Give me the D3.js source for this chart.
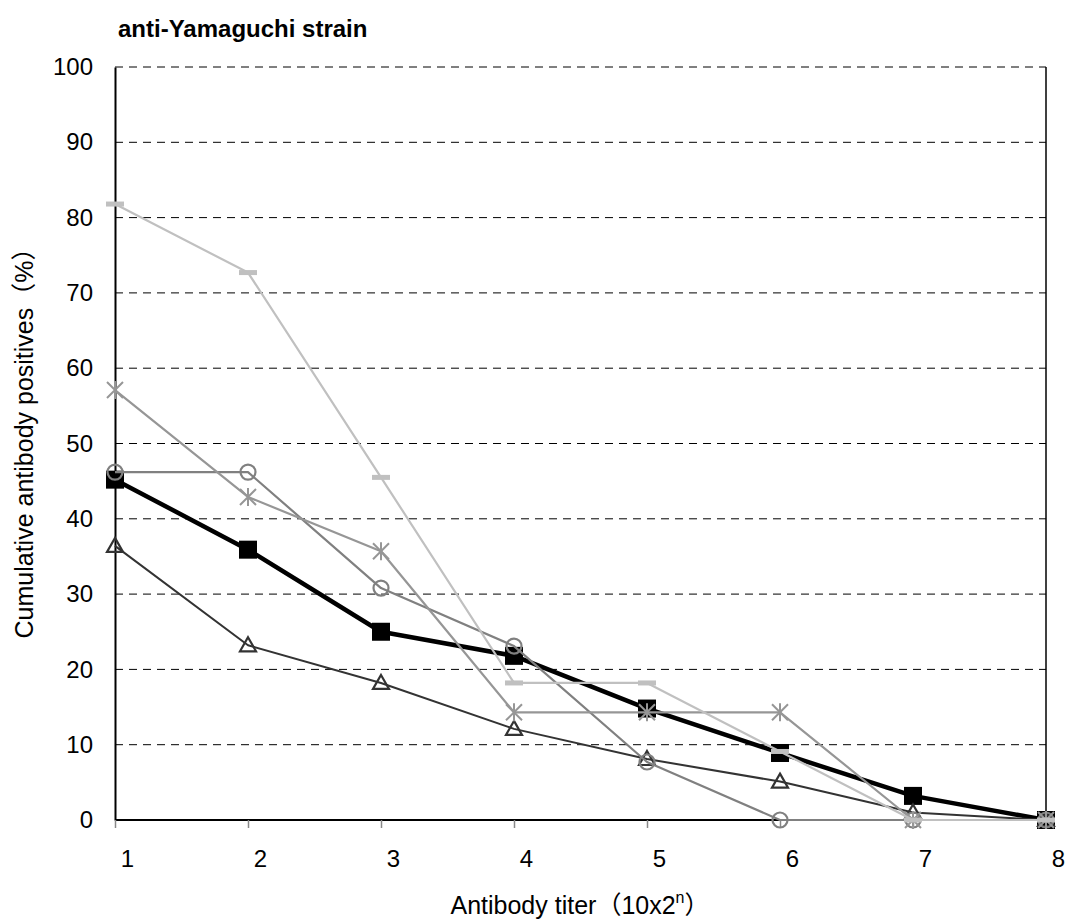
<!DOCTYPE html>
<html><head><meta charset="utf-8">
<script src="https://cdn.jsdelivr.net/npm/d3@7/dist/d3.min.js"></script>
<style>
body{margin:0;background:#fff;}
text{font-family:"Liberation Sans",Arial,"Noto Sans CJK JP",sans-serif;}
</style></head><body>
<svg id="c" width="1070" height="921"></svg>
<script>
const titers = [1,2,3,4,5,6,7,8];
const yTicks = [0,10,20,30,40,50,60,70,80,90,100];
const seriesSquare   = [45.2,35.9,25.0,21.8,14.8,8.9,3.2,0];
const seriesTriangle = [36.4,23.2,18.2,12.1,8.1,5.1,1.0,0];
const seriesCircle   = [46.2,46.2,30.8,23.1,7.7,0,0,0];
const seriesStar     = [57.1,42.9,35.7,14.3,14.3,14.3,0,0];
const seriesDash     = [81.8,72.7,45.5,18.2,18.2,9.1,0,0];

const svg = d3.select("#c");
const m = {l:115, t:67, r:1070-1046, b:921-820};
const W = 1070, H = 921;
const x = d3.scaleLinear().domain([1,8]).range([m.l, W-m.r]);
const y = d3.scaleLinear().domain([0,100]).range([H-m.b, m.t]);

// gridlines
svg.append("g").selectAll("line").data(yTicks.filter(d=>d>0)).join("line")
  .attr("x1", x(1)).attr("x2", x(8)).attr("y1", d=>y(d)).attr("y2", d=>y(d))
  .attr("stroke", "#000").attr("stroke-width", 1).attr("stroke-dasharray", "8,6");
// right border
svg.append("line").attr("x1", x(8)).attr("x2", x(8)).attr("y1", y(100)).attr("y2", y(0))
  .attr("stroke", "#000").attr("stroke-width", 1.5);

// axes
const yAxis = d3.axisLeft(y).tickValues(yTicks).tickFormat(d3.format("d")).tickSize(0).tickPadding(22);
const gy = svg.append("g").attr("transform", `translate(${x(1)},0)`).call(yAxis);
gy.select(".domain").attr("stroke", "#000").attr("stroke-width", 2);
gy.selectAll("text").attr("font-size", 24).attr("fill", "#000");

const xAxis = d3.axisBottom(x).tickValues(titers).tickFormat(d3.format("d")).tickSize(8).tickPadding(22);
const gx = svg.append("g").attr("transform", `translate(0,${y(0)})`).call(xAxis);
gx.select(".domain").attr("stroke", "#000").attr("stroke-width", 2).attr("d", `M${x(1)},0H${x(8)}`);
gx.selectAll(".tick line").attr("stroke", "#888").attr("stroke-width", 1.5);
gx.selectAll("text").attr("font-size", 24).attr("fill", "#000").attr("dx", 12);

// titles
svg.append("text").attr("x", 118).attr("y", 37).attr("font-size", 24).attr("font-weight", "bold")
  .text("anti-Yamaguchi strain");
svg.append("text").attr("transform", `translate(33,437) rotate(-90)`)
  .attr("text-anchor", "middle").attr("font-size", 25)
  .text("Cumulative antibody positives（%）");
const xl = svg.append("text").attr("x", 580).attr("y", 914)
  .attr("text-anchor", "middle").attr("font-size", 25);
xl.append("tspan").text("Antibody titer（10x2");
xl.append("tspan").attr("dy", -11).attr("font-size", 16).text("n");
xl.append("tspan").attr("dy", 11).text("）");

const line = d3.line().x((d,i)=>x(titers[i])).y(d=>y(d));

function drawSeries(vals, color, width, marker){
  const g = svg.append("g");
  g.append("path").attr("d", line(vals)).attr("fill", "none")
    .attr("stroke", color).attr("stroke-width", width).attr("stroke-linejoin", "round");
  const pts = g.selectAll("g.pt").data(vals).join("g")
    .attr("transform", (d,i)=>`translate(${x(titers[i])},${y(d)})`);
  marker(pts, color);
}
const sq = (p,c)=>p.append("rect").attr("x",-9).attr("y",-9).attr("width",18).attr("height",18).attr("fill",c);
const tri = (p,c)=>p.append("path").attr("d","M0,-8L8,6L-8,6Z").attr("fill","none").attr("stroke",c).attr("stroke-width",2.2);
const circ = (p,c)=>p.append("circle").attr("r",7.5).attr("fill","none").attr("stroke",c).attr("stroke-width",2.2);
const star = (p,c)=>p.append("path").attr("d","M-8,-8L8,8M-8,8L8,-8M0,-9V9").attr("fill","none").attr("stroke",c).attr("stroke-width",2);
const dash = (p,c)=>p.append("rect").attr("x",-9).attr("y",-2.5).attr("width",18).attr("height",5).attr("fill",c);

drawSeries(seriesSquare, "#000", 4.5, sq);
drawSeries(seriesTriangle, "#333", 2, tri);
drawSeries(seriesCircle, "#808080", 2.2, circ);
drawSeries(seriesStar, "#969696", 2.2, star);
drawSeries(seriesDash, "#c0c0c0", 2.2, dash);
</script>
</body></html>
